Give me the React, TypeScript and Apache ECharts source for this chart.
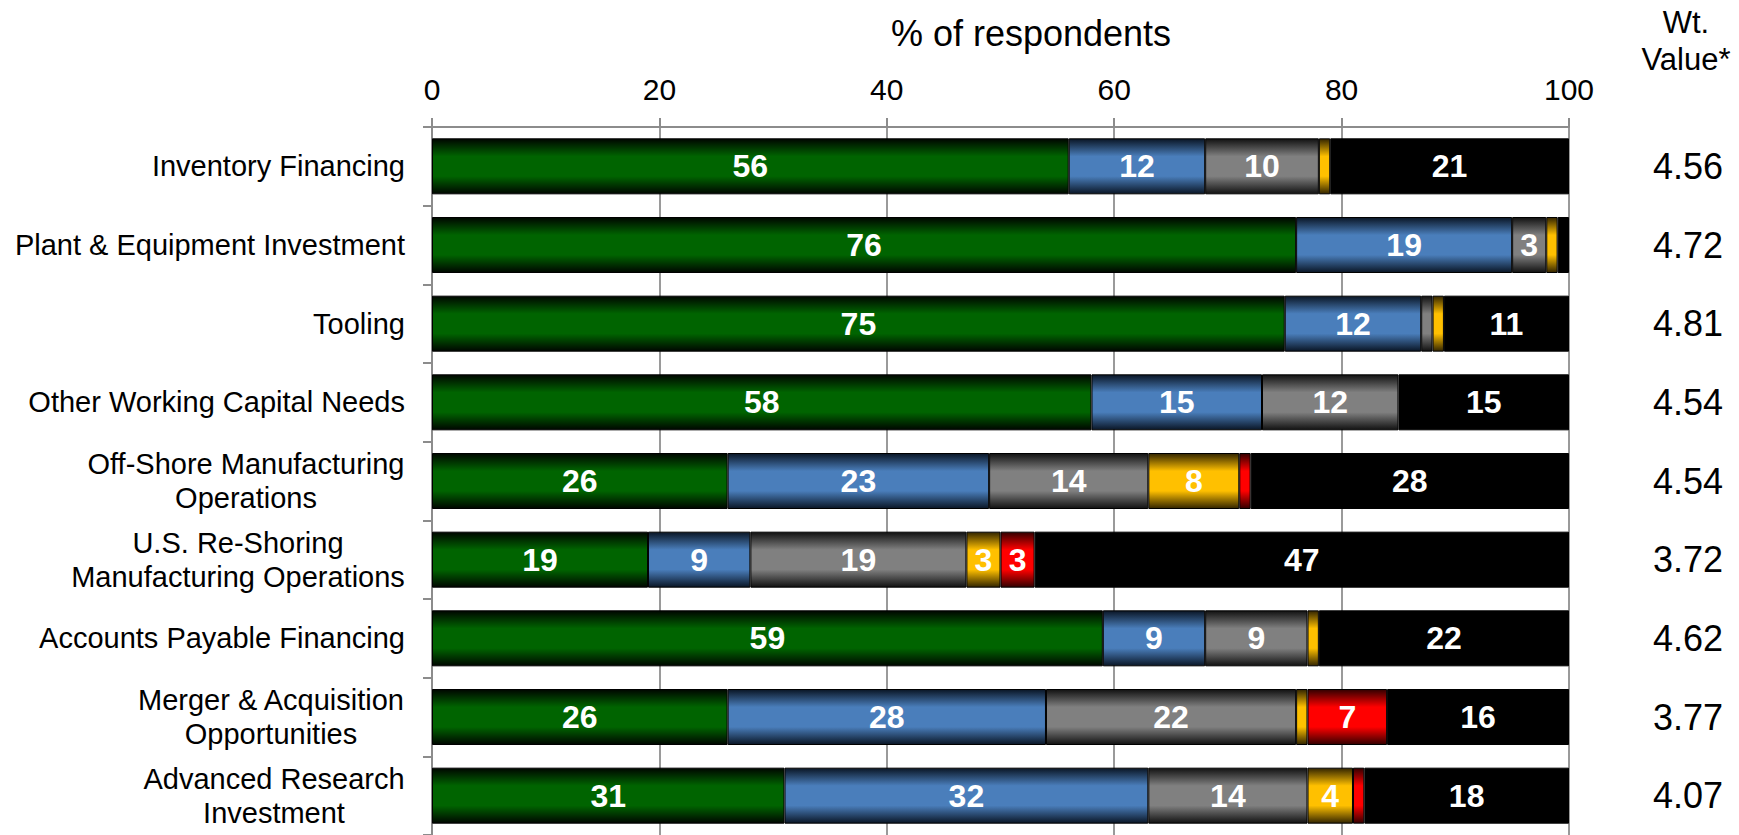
import React, { useEffect, useRef } from "react";
import * as echarts from "echarts";

const categories = [
  "Inventory Financing",
  "Plant & Equipment Investment",
  "Tooling",
  "Other Working Capital Needs",
  "Off-Shore Manufacturing\nOperations",
  "U.S. Re-Shoring\nManufacturing Operations",
  "Accounts Payable Financing",
  "Merger & Acquisition\nOpportunities",
  "Advanced Research\nInvestment",
];

const greenValues = [56, 76, 75, 58, 26, 19, 59, 26, 31];
const blueValues = [12, 19, 12, 15, 23, 9, 9, 28, 32];
const grayValues = [10, 3, 1, 12, 14, 19, 9, 22, 14];
const orangeValues = [1, 1, 1, 0, 8, 3, 1, 1, 4];
const redValues = [0, 0, 0, 0, 1, 3, 0, 7, 1];
const blackValues = [21, 1, 11, 15, 28, 47, 22, 16, 18];

const wtValues = ["4.56", "4.72", "4.81", "4.54", "4.54", "3.72", "4.62", "3.77", "4.07"];

const xTicks = [0, 20, 40, 60, 80, 100];

const FONT = "'Liberation Sans', Arial, sans-serif";

function grad(mid: string, edge: string) {
  return {
    type: "linear",
    x: 0,
    y: 0,
    x2: 0,
    y2: 1,
    colorStops: [
      { offset: 0, color: edge },
      { offset: 0.32, color: mid },
      { offset: 0.68, color: mid },
      { offset: 1, color: edge },
    ],
  };
}

function measure(text: string, font: string) {
  const c = document.createElement("canvas");
  const ctx = c.getContext("2d");
  if (!ctx) return text.length * 15;
  ctx.font = font;
  return ctx.measureText(text).width;
}

export default function App() {
  const ref = useRef<HTMLDivElement>(null);
  useEffect(() => {
    if (!ref.current) return;
    const chart = echarts.init(ref.current, undefined, { renderer: "svg" });

    const seriesDefs = [
      { name: "Green", data: greenValues, color: grad("#006400", "#000600") },
      { name: "Blue", data: blueValues, color: grad("#4a7ebb", "#0a1626") },
      { name: "Gray", data: grayValues, color: grad("#808080", "#121212") },
      { name: "Orange", data: orangeValues, color: grad("#ffc000", "#332500") },
      { name: "Red", data: redValues, color: grad("#ff0000", "#330000") },
      { name: "Black", data: blackValues, color: "#000000" },
    ];

    const catFont = `29px ${FONT}`;

    const rich: any = {};
    categories.forEach((cat) => {
      const lines = cat.split("\n");
      if (lines.length > 1) {
        const w = Math.ceil(Math.max(...lines.map((l) => measure(l, catFont))));
        rich["c" + w] = {
          width: w,
          align: "center",
          fontSize: 29,
          fontFamily: FONT,
          color: "#000",
          lineHeight: 34,
        };
      }
    });

    chart.setOption({
      animation: false,
      backgroundColor: "#ffffff",
      grid: { left: 432, right: 170, top: 127, height: 714, containLabel: false },
      xAxis: {
        type: "value",
        position: "top",
        min: 0,
        max: 100,
        interval: 20,
        axisLine: { show: true, lineStyle: { color: "#8c8c8c", width: 2 } },
        axisTick: { show: true, length: 9, inside: false, lineStyle: { color: "#8c8c8c", width: 2 } },
        splitLine: { show: true, lineStyle: { color: "#9a9a9a", width: 2 } },
        axisLabel: {
          fontSize: 30,
          fontFamily: FONT,
          color: "#000",
          margin: 23,
          formatter: (v: number) => (xTicks.includes(v) ? String(v) : ""),
        },
      },
      yAxis: [
        {
          type: "category",
          inverse: true,
          data: categories,
          axisLine: { show: true, lineStyle: { color: "#8c8c8c", width: 2 } },
          axisTick: { show: true, length: 9, inside: false, alignWithLabel: false, lineStyle: { color: "#8c8c8c", width: 2 } },
          splitLine: { show: false },
          axisLabel: {
            fontSize: 29,
            fontFamily: FONT,
            color: "#000",
            margin: 27,
            lineHeight: 34,
            formatter: (v: string) => {
              const lines = v.split("\n");
              if (lines.length === 1) return v;
              const w = Math.ceil(Math.max(...lines.map((l) => measure(l, catFont))));
              return lines.map((l) => `{c${w}|${l}}`).join("\n");
            },
            rich,
          },
        },
        {
          type: "category",
          inverse: true,
          position: "right",
          data: categories,
          axisLine: { show: false },
          axisTick: { show: false },
          splitLine: { show: false },
          axisLabel: {
            fontSize: 36,
            fontFamily: FONT,
            color: "#000",
            align: "center",
            margin: 119,
            formatter: (_v: string, idx: number) => wtValues[idx],
          },
        },
      ],
      graphic: [
        {
          type: "text",
          x: 1031,
          y: 33,
          style: {
            text: "% of respondents",
            font: `36px ${FONT}`,
            fill: "#000",
            textAlign: "center",
            textVerticalAlign: "middle",
          },
        },
        {
          type: "text",
          x: 1686,
          y: 41,
          style: {
            text: "Wt.\nValue*",
            font: `31px ${FONT}`,
            fill: "#000",
            textAlign: "center",
            textVerticalAlign: "middle",
            lineHeight: 37,
          },
        },
      ],
      series: seriesDefs.map((s) => ({
        name: s.name,
        type: "bar",
        stack: "total",
        barWidth: 56,
        yAxisIndex: 0,
        data: s.data.map((v) => (v === 0 ? "-" : v)),
        itemStyle: { color: s.color, borderColor: "#000", borderWidth: 1 },
        label: {
          show: true,
          position: "inside",
          color: "#fff",
          fontSize: 32,
          fontWeight: "bold",
          fontFamily: FONT,
          formatter: (p: any) => (typeof p.value === "number" && p.value >= 3 ? String(p.value) : ""),
        },
      })),
    });

    return () => chart.dispose();
  }, []);

  return (
    <div
      ref={ref}
      style={{ position: "fixed", left: 0, top: 0, width: 1739, height: 835, background: "#fff" }}
    />
  );
}
